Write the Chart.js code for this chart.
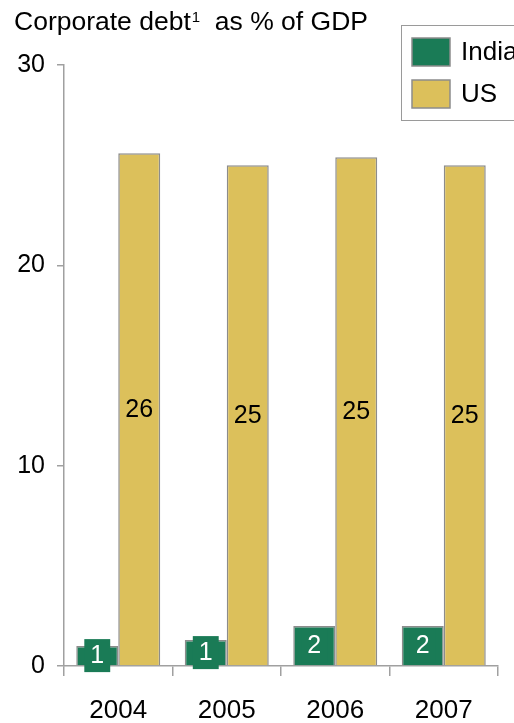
<!DOCTYPE html>
<html>
<head>
<meta charset="utf-8">
<script src="https://cdn.jsdelivr.net/npm/chart.js@4/dist/chart.umd.min.js"></script>
<style>
  body { margin: 0; background: #fff; }
  #wrap { position: relative; width: 514px; height: 723px; overflow: hidden; }
</style>
</head>
<body>
<div id="wrap"><canvas id="debtChart" width="514" height="723"></canvas></div>
<script>
// Corporate debt as % of GDP, India vs US
const years = ["2004", "2005", "2006", "2007"];
const indiaDebt = [1.0, 1.3, 2.0, 2.0];
const usDebt = [25.6, 25.0, 25.4, 25.0];
const yTicks = [0, 10, 20, 30];

const GREEN = "#1a7b56";
const YELLOW = "#dcc05b";
const EDGE = "#8c8c8c";
const AXIS = "#a0a0a0";
const FONT = "'Liberation Sans', Arial, sans-serif";

// value labels centred inside each bar
const barLabels = {
  id: "barLabels",
  afterDatasetsDraw(chart) {
    const ctx = chart.ctx;
    ctx.save();
    ctx.font = "25px " + FONT;
    ctx.textAlign = "center";
    ctx.textBaseline = "middle";
    chart.data.datasets.forEach((ds, i) => {
      chart.getDatasetMeta(i).data.forEach((bar, j) => {
        const txt = String(Math.round(ds.data[j]));
        const cy = (bar.y + bar.base) / 2;
        if (i === 0) {
          const w = ctx.measureText(txt).width + 12;
          ctx.fillStyle = GREEN;
          ctx.fillRect(bar.x - w / 2, cy - 16.5, w, 33);
          ctx.fillStyle = "#fff";
        } else {
          ctx.fillStyle = "#000";
        }
        ctx.fillText(txt, bar.x, cy + 1);
      });
    });
    ctx.restore();
  }
};

// heading and legend box
const decorations = {
  id: "decorations",
  afterDraw(chart) {
    const ctx = chart.ctx;
    ctx.save();
    ctx.fillStyle = "#000";
    ctx.textBaseline = "alphabetic";
    ctx.textAlign = "left";
    ctx.font = "26.5px " + FONT;
    let x = 14;
    ctx.fillText("Corporate debt", x, 30);
    x += ctx.measureText("Corporate debt").width + 1;
    ctx.font = "15px " + FONT;
    ctx.fillText("1", x, 22);
    x += ctx.measureText("1").width;
    ctx.font = "26.5px " + FONT;
    ctx.fillText("  as % of GDP", x, 30);

    // legend
    ctx.fillStyle = "#fff";
    ctx.fillRect(401.5, 25.5, 130, 95);
    ctx.strokeStyle = "#9a9a9a";
    ctx.lineWidth = 1;
    ctx.strokeRect(401.5, 25.5, 130, 95);
    const items = [["India", GREEN, 38], ["US", YELLOW, 80]];
    items.forEach(([name, col, top]) => {
      ctx.fillStyle = col;
      ctx.fillRect(412, top, 38, 28);
      ctx.strokeStyle = EDGE;
      ctx.lineWidth = 1.5;
      ctx.strokeRect(412, top, 38, 28);
      ctx.fillStyle = "#000";
      ctx.font = "26px " + FONT;
      ctx.textBaseline = "middle";
      ctx.fillText(name, 461, top + 15);
    });
    ctx.restore();
  }
};

new Chart(document.getElementById("debtChart"), {
  type: "bar",
  data: {
    labels: years,
    datasets: [
      { label: "India", data: indiaDebt, backgroundColor: GREEN, borderColor: EDGE, borderWidth: 1.5, borderSkipped: "bottom" },
      { label: "US", data: usDebt, backgroundColor: YELLOW, borderColor: EDGE, borderWidth: 1.5, borderSkipped: "bottom" }
    ]
  },
  options: {
    responsive: false,
    animation: false,
    events: [],
    datasets: { bar: { categoryPercentage: 0.774, barPercentage: 1.0 } },
    layout: { padding: { left: 0, right: 16, top: 65, bottom: 0 } },
    plugins: { legend: { display: false }, title: { display: false }, tooltip: { enabled: false } },
    scales: {
      x: {
        afterFit(scale) { scale.height = 57; },
        grid: { offset: true, drawOnChartArea: false, tickLength: 10, color: AXIS, lineWidth: 1.5 },
        border: { color: AXIS, width: 1.5 },
        ticks: { color: "#000", font: { family: FONT, size: 26 }, padding: 19 }
      },
      y: {
        min: 0,
        max: 30,
        afterFit(scale) { scale.width = 64; },
        afterBuildTicks(scale) { scale.ticks = yTicks.map(v => ({ value: v })); },
        grid: { drawOnChartArea: false, tickLength: 7, color: AXIS, lineWidth: 1.5 },
        border: { color: AXIS, width: 1.5 },
        ticks: { color: "#000", font: { family: FONT, size: 25 }, padding: 12 }
      }
    }
  },
  plugins: [barLabels, decorations]
});
</script>
</body>
</html>
